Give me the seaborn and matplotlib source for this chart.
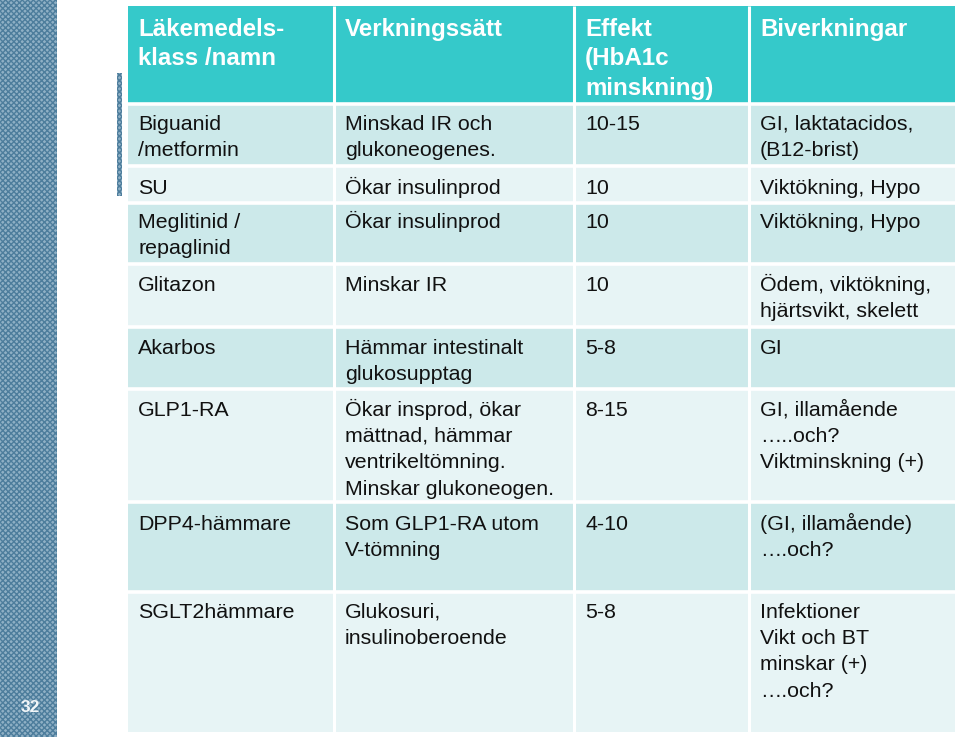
import matplotlib
matplotlib.use("Agg")
import matplotlib.pyplot as plt
from matplotlib.patches import Rectangle
import seaborn as sns

# ---- data ----
headers = ["Läkemedels-\nklass /namn", "Verkningssätt", "Effekt\n(HbA1c\nminskning)", "Biverkningar"]
drug_class = ["Biguanid\n/metformin", "SU", "Meglitinid /\nrepaglinid", "Glitazon", "Akarbos",
              "GLP1-RA", "DPP4-hämmare", "SGLT2hämmare"]
mechanism = ["Minskad IR och\nglukoneogenes.", "Ökar insulinprod", "Ökar insulinprod", "Minskar IR",
             "Hämmar intestinalt\nglukosupptag",
             "Ökar insprod, ökar\nmättnad, hämmar\nventrikeltömning.\nMinskar glukoneogen.",
             "Som GLP1-RA utom\nV-tömning", "Glukosuri,\ninsulinoberoende"]
effect = ["10-15", "10", "10", "10", "5-8", "8-15", "4-10", "5-8"]
side_effects = ["GI, laktatacidos,\n(B12-brist)", "Viktökning, Hypo", "Viktökning, Hypo",
                "Ödem, viktökning,\nhjärtsvikt, skelett", "GI",
                "GI, illamående\n…..och?\nViktminskning (+)", "(GI, illamående)\n….och?",
                "Infektioner\nVikt och BT\nminskar (+)\n….och?"]
slide_number = "32"

# ---- layout ----
W, H = 959, 737
col_edges = [128, 334, 574, 749, 955]
row_edges = [6, 103.5, 166, 202.5, 264, 327, 388.5, 502, 591.5, 732]
text_x = [138, 345, 585, 760]
header_color = "#35C9CA"
dark_row = "#CCE9EA"
light_row = "#E7F4F5"

sns.set_theme(style="white")
plt.rcParams["font.family"] = ["Liberation Sans", "DejaVu Sans"]

fig = plt.figure(figsize=(W / 100, H / 100), dpi=100)
ax = fig.add_axes([0, 0, 1, 1])
ax.set_xlim(0, W)
ax.set_ylim(H, 0)
ax.axis("off")

# left decorative strips
ax.add_patch(Rectangle((0, 0), 57, H, facecolor="#8fb0c5", edgecolor="#4d7d9c",
                       hatch="xxxxxx", linewidth=0))
ax.add_patch(Rectangle((117, 73), 5, 123, facecolor="#8fb0c5", edgecolor="#4d7d9c",
                       hatch="xxxxxx", linewidth=0))
ax.text(30, 708, slide_number, color="#f2f6f8", fontsize=12.5, fontweight="bold",
        ha="center", va="center")

# row backgrounds
for i in range(len(row_edges) - 1):
    y0, y1 = row_edges[i], row_edges[i + 1]
    if i == 0:
        c = header_color
    else:
        c = dark_row if (i - 1) % 2 == 0 else light_row
    ax.add_patch(Rectangle((col_edges[0], y0), col_edges[-1] - col_edges[0], y1 - y0,
                           facecolor=c, edgecolor="none"))

# white grid lines
for x in col_edges[1:-1]:
    ax.plot([x, x], [row_edges[0], row_edges[-1]], color="white", lw=2.2, solid_capstyle="butt")
for y in row_edges[1:-1]:
    ax.plot([col_edges[0], col_edges[-1]], [y, y], color="white", lw=2.6, solid_capstyle="butt")


def put(x, y_first, s, spacing, size, **kw):
    cap_half = 0.716 * size * 100 / 72 / 2
    for k, line in enumerate(s.split("\n")):
        ax.text(x, y_first + k * spacing + cap_half, line, ha="left", va="baseline",
                fontsize=size, **kw)


# header
for j, h in enumerate(headers):
    put(text_x[j], 27, h, 29.5, 17.4, color="white", fontweight="bold")

# body
row_first_y = [122, 186, 220, 283, 346, 408, 522, 610]
for i in range(len(drug_class)):
    y = row_first_y[i]
    for j, col in enumerate([drug_class, mechanism, effect, side_effects]):
        put(text_x[j], y, col[i], 26.3, 15.4, color="#111111")

fig.savefig("out.png", dpi=100)
